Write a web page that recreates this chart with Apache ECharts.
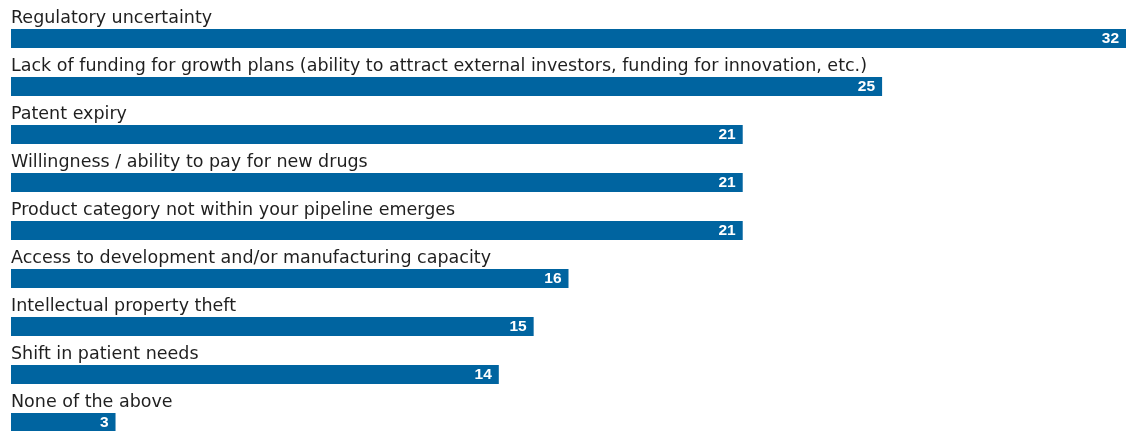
<!DOCTYPE html>
<html>
<head>
<meta charset="utf-8">
<script src="https://cdn.jsdelivr.net/npm/echarts@6/dist/echarts.min.js"></script>
<style>
  html, body { margin: 0; padding: 0; background: #ffffff; overflow: hidden; }
  /* last bar runs slightly past the bottom edge of the page */
  #chart { width: 1133px; height: 447px; }
</style>
</head>
<body>
<div id="chart"></div>
<script>
// Barriers to growth, share of respondents (%)
const categories = [
  'Regulatory uncertainty',
  'Lack of funding for growth plans (ability to attract external investors, funding for innovation, etc.)',
  'Patent expiry',
  'Willingness / ability to pay for new drugs',
  'Product category not within your pipeline emerges',
  'Access to development and/or manufacturing capacity',
  'Intellectual property theft',
  'Shift in patient needs',
  'None of the above'
];
const values = [32, 25, 21, 21, 21, 16, 15, 14, 3];

const barColor = '#0064a0';
const chart = echarts.init(document.getElementById('chart'));

chart.setOption({
  animation: false,
  grid: { left: 11, top: 14.5, right: 7, bottom: 0.5, containLabel: false },
  xAxis: {
    type: 'value', min: 0, max: 32,
    show: false
  },
  yAxis: {
    type: 'category', data: categories, inverse: true,
    show: false
  },
  series: [
    {
      // category names written just above each bar
      type: 'bar',
      data: values,
      barWidth: 19,
      barGap: '-100%',
      itemStyle: { color: 'rgba(0,0,0,0)' },
      silent: true,
      label: {
        show: true,
        formatter: '{b}',
        position: [0, -2],
        align: 'left',
        verticalAlign: 'bottom',
        color: '#1f1f1f',
        fontFamily: 'DejaVu Sans',
        fontSize: 17.5
      },
      z: 3
    },
    {
      type: 'bar',
      data: values,
      barWidth: 19,
      barGap: '-100%',
      itemStyle: { color: barColor },
      label: {
        show: true,
        position: 'insideRight',
        distance: 7,
        color: '#ffffff',
        fontFamily: 'Liberation Sans',
        fontWeight: 'bold',
        fontSize: 15.5
      },
      z: 2
    }
  ]
});
</script>
</body>
</html>
